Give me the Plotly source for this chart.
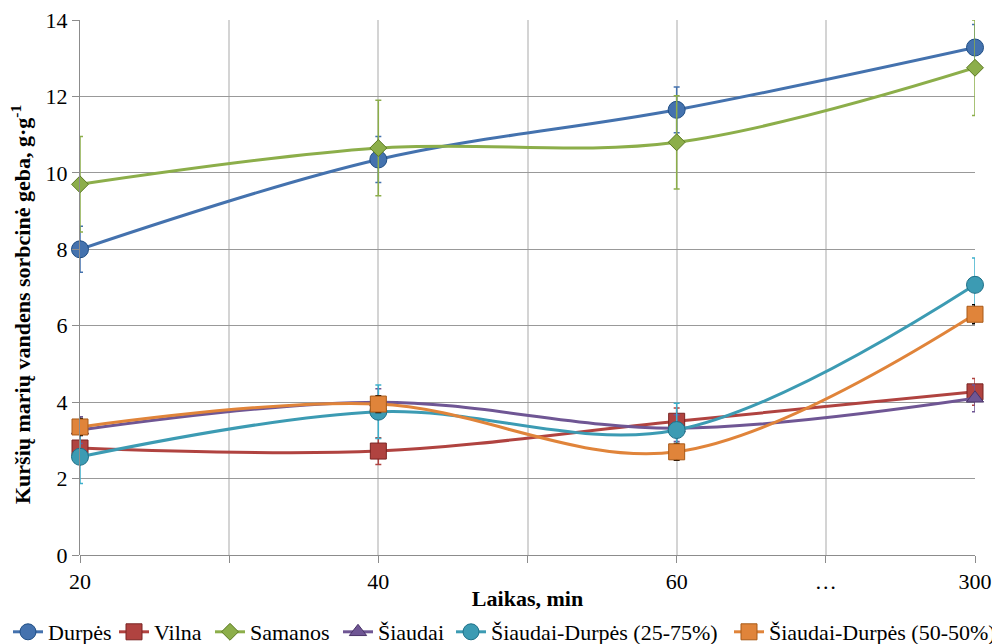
import plotly.graph_objects as go

x_pos = [0, 1, 2, 3]
tick_vals = [0, 0.5, 1, 1.5, 2, 2.5, 3]
tick_text = ["20", "", "40", "", "60", "…", "300"]

names = ["Durpės", "Vilna", "Samanos", "Šiaudai",
         "Šiaudai-Durpės (25-75%)", "Šiaudai-Durpės (50-50%)"]
durpes = [8.0, 10.35, 11.65, 13.28]
vilna = [2.8, 2.72, 3.5, 4.27]
samanos = [9.7, 10.65, 10.8, 12.75]
siaudai = [3.27, 4.0, 3.32, 4.1]
sd_25_75 = [2.57, 3.75, 3.27, 7.07]
sd_50_50 = [3.35, 3.95, 2.7, 6.3]

err_durpes = [0.6, 0.6, 0.6, 0.6]
err_vilna = [0.35, 0.35, 0.35, 0.35]
err_samanos = [1.25, 1.25, 1.22, 1.25]
err_siaudai = [0.35, 0.35, 0.35, 0.35]
err_25_75 = [0.7, 0.7, 0.7, 0.7]
err_50_50 = [0.22, 0.22, 0.22, 0.25]

series = [durpes, vilna, samanos, siaudai, sd_25_75, sd_50_50]
errors = [err_durpes, err_vilna, err_samanos, err_siaudai, err_25_75, err_50_50]
colors = ["#4472AE", "#B04340", "#8CAE4A", "#6F5694", "#3C9BB3", "#E0843A"]
outline = ["#1F4E85", "#7A2422", "#5C7A22", "#4A3468", "#1E7088", "#A85A18"]
err_colors = ["#4472AE", "#B04340", "#8CAE4A", "#6F5694", "#3CB0CC", "#000000"]
symbols = ["circle", "square", "diamond", "triangle-up", "circle", "square"]
sizes = [17, 16, 13, 15, 17, 16]
legend_text_x = [43, 154, 250, 378, 491, 769]   # page px where legend text starts

Y_TITLE = "<b>Kuršių marių vandens sorbcinė geba, g·g<sup>-1</sup></b>"
X_TITLE = "<b>Laikas, min</b>"

FONT = "Times New Roman, Times, Liberation Serif, DejaVu Serif, serif"
OFF = 8          # default body margin of the html page
FIG_W, FIG_H = 1000 - OFF, 644 - OFF
PLOT_L, PLOT_R, PLOT_T, PLOT_B = 80, 975, 20, 555   # page px

fig = go.Figure()
legend_ids = ["legend"] + [f"legend{i}" for i in range(2, 7)]
for i, (name, ys, er, c, oc, ec, sym, sz) in enumerate(zip(
        names, series, errors, colors, outline, err_colors, symbols, sizes)):
    fig.add_trace(go.Scatter(
        x=x_pos, y=ys, name=name, mode="lines+markers",
        line=dict(color=c, width=3, shape="spline", smoothing=1.0),
        marker=dict(symbol=sym, size=sz, color=c, line=dict(color=oc, width=1)),
        error_y=dict(type="data", array=er, visible=True, color=ec,
                     thickness=1.5, width=3),
        cliponaxis=False, legend=legend_ids[i],
    ))

legend_layouts = {}
for lid, tx in zip(legend_ids, legend_text_x):
    legend_layouts[lid] = dict(
        orientation="h", xref="container", yref="container",
        x=(tx - 40 - OFF) / FIG_W, xanchor="left",
        y=(644 - 632) / FIG_H, yanchor="middle",
        font=dict(size=22, family=FONT, color="black"), itemwidth=30,
        bgcolor="rgba(0,0,0,0)", borderwidth=0,
    )

fig.update_layout(
    width=FIG_W, height=FIG_H,
    margin=dict(l=PLOT_L - OFF, r=FIG_W - (PLOT_R - OFF), t=PLOT_T - OFF, b=644 - PLOT_B),
    paper_bgcolor="white", plot_bgcolor="white",
    font=dict(family=FONT, size=22, color="black"),
    showlegend=True,
    **legend_layouts,
)
fig.add_annotation(
    text=Y_TITLE, textangle=-90, showarrow=False,
    xref="paper", yref="paper",
    x=(21 - PLOT_L) / (PLOT_R - PLOT_L), xanchor="center",
    y=(PLOT_B - 305) / (PLOT_B - PLOT_T), yanchor="middle",
    font=dict(size=22, family=FONT, color="black"),
)
fig.update_xaxes(
    range=[0, 3], tickmode="array", tickvals=tick_vals, ticktext=tick_text,
    showgrid=True, gridcolor="#D4D4D4", gridwidth=1.5,
    showline=False, zeroline=False, automargin=False,
    ticks="outside", ticklen=7, tickcolor="#8C8C8C", ticklabeloverflow="allow",
    tickfont=dict(size=22, family=FONT, color="black"),
    title=dict(text=X_TITLE, font=dict(size=22, family=FONT, color="black")),
)
fig.update_yaxes(
    range=[0, 14], tickmode="array", tickvals=[0, 2, 4, 6, 8, 10, 12, 14],
    automargin=False, ticklabeloverflow="allow",
    showgrid=True, gridcolor="#999999", gridwidth=1,
    showline=True, linecolor="#8C8C8C", linewidth=1,
    zeroline=True, zerolinecolor="#8C8C8C", zerolinewidth=1,
    ticks="outside", ticklen=7, tickcolor="#8C8C8C",
    tickfont=dict(size=22, family=FONT, color="black"),
)

fig.write_html("out.html")
